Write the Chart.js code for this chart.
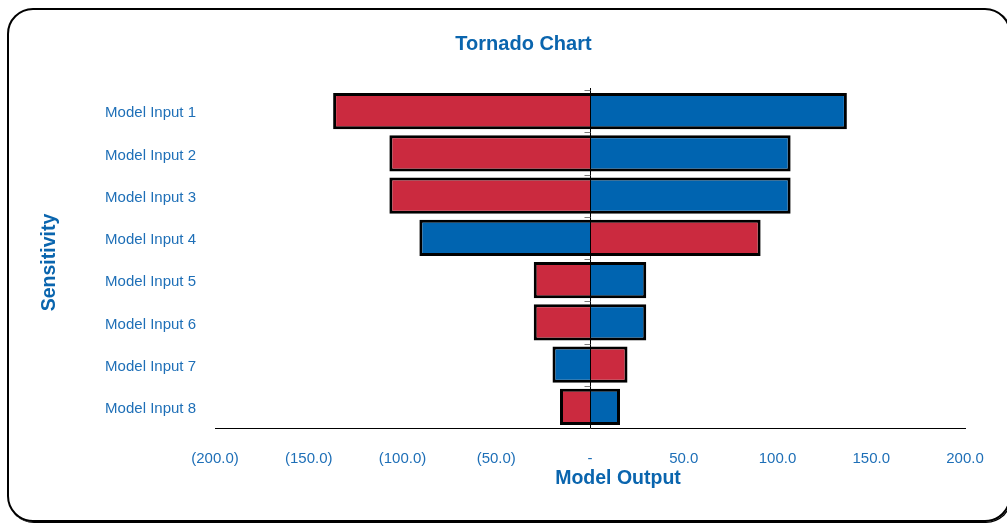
<!DOCTYPE html>
<html>
<head>
<meta charset="utf-8">
<title>Tornado Chart</title>
<script src="https://cdn.jsdelivr.net/npm/chart.js@4/dist/chart.umd.min.js"></script>
<style>
  html, body { margin: 0; padding: 0; background: #fff; overflow: hidden; }
  #wrap { position: relative; width: 1007px; height: 525px; }
  #frame {
    position: absolute; left: 7px; top: 8px; width: 1000px; height: 510px;
    border: 2px solid #000; border-radius: 26px; pointer-events: none;
    box-shadow: 1px 1px 0 #000;
  }
  canvas { position: absolute; left: 0; top: 0; }
</style>
</head>
<body>
<div id="wrap">
  <canvas id="chart" width="1007" height="525"></canvas>
  <div id="frame"></div>
</div>
<script>
// Inputs, top to bottom
const categories = ['Model Input 1', 'Model Input 2', 'Model Input 3', 'Model Input 4',
                    'Model Input 5', 'Model Input 6', 'Model Input 7', 'Model Input 8'];
// Swing of the model output for each input (red and blue cases)
const redSeries  = [-137, -107, -107,  91, -30, -30,  20, -16];
const blueSeries = [ 137,  107,  107, -91,  30,  30, -20,  16];
// Output axis ticks
const xTicks = [-200, -150, -100, -50, 0, 50, 100, 150, 200];

const chartTitle = 'Tornado Chart';
const xTitle = 'Model Output';
const yTitle = 'Sensitivity';

const RED = '#CB2A3F';
const BLUE = '#0064B0';
const LABEL_BLUE = '#1E6FB7';
const TITLE_BLUE = '#0A65AE';
const FONT = '"Liberation Sans", Arial, sans-serif';

function fmtTick(v) {
  if (v === 0) return '-';
  if (v < 0) return '(' + (-v).toFixed(1) + ')';
  return v.toFixed(1);
}

// Zero-line category marks plus the chart, axis titles
const captions = {
  id: 'captions',
  afterDatasetsDraw(chart) {
    const { ctx, scales: { x, y } } = chart;
    const x0 = Math.round(x.getPixelForValue(0)) + 0.5;
    const half = (y.getPixelForValue(1) - y.getPixelForValue(0)) / 2;
    ctx.save();
    ctx.strokeStyle = '#000';
    ctx.lineWidth = 1;
    ctx.beginPath();
    ctx.moveTo(x0, y.top - 2);
    ctx.lineTo(x0, y.bottom);
    ctx.stroke();
    ctx.strokeStyle = '#7a7a7a';
    for (let i = 0; i < categories.length; i++) {
      const yb = Math.round(y.getPixelForValue(i) - half) + 0.5;
      ctx.beginPath();
      ctx.moveTo(x0 - 6, yb);
      ctx.lineTo(x0, yb);
      ctx.stroke();
    }
    ctx.restore();
  },
  afterDraw(chart) {
    const { ctx } = chart;
    ctx.save();
    ctx.fillStyle = TITLE_BLUE;
    ctx.textAlign = 'center';
    ctx.textBaseline = 'middle';
    ctx.font = 'bold 20px ' + FONT;
    ctx.fillText(chartTitle, 523.5, 44);
    ctx.font = 'bold 19.5px ' + FONT;
    ctx.fillText(xTitle, 618, 479);
    ctx.translate(50, 262.5);
    ctx.rotate(-Math.PI / 2);
    ctx.fillText(yTitle, 0, 0);
    ctx.restore();
  }
};

new Chart(document.getElementById('chart'), {
  type: 'bar',
  data: {
    labels: categories,
    datasets: [
      { label: 'Red', data: redSeries, backgroundColor: RED, borderColor: '#000',
        borderWidth: 3, borderSkipped: 'start' },
      { label: 'Blue', data: blueSeries, backgroundColor: BLUE, borderColor: '#000',
        borderWidth: 3, borderSkipped: 'start' }
    ]
  },
  options: {
    indexAxis: 'y',
    responsive: false,
    animation: false,
    devicePixelRatio: 1,
    layout: { padding: { left: 0, right: 42, top: 90, bottom: 57 } },
    datasets: { bar: { categoryPercentage: 1.0, barPercentage: 0.86 } },
    plugins: {
      legend: { display: false },
      tooltip: { enabled: false },
      title: { display: false }
    },
    scales: {
      x: {
        type: 'linear',
        stacked: true,
        min: -200,
        max: 200,
        afterBuildTicks(scale) { scale.ticks = xTicks.map(v => ({ value: v })); },
        afterFit(scale) { scale.height = 40; },
        grid: { display: false, drawTicks: false },
        border: { display: true, color: '#000', width: 1 },
        ticks: {
          padding: 22,
          color: LABEL_BLUE,
          font: { family: FONT, size: 15 },
          maxRotation: 0,
          autoSkip: false,
          callback: v => fmtTick(v)
        }
      },
      y: {
        type: 'category',
        stacked: true,
        offset: true,
        afterFit(scale) { scale.width = 215; },
        grid: { display: false, drawTicks: false },
        border: { display: false },
        ticks: {
          padding: 19,
          labelOffset: 2,
          color: LABEL_BLUE,
          font: { family: FONT, size: 15 },
          autoSkip: false
        }
      }
    }
  },
  plugins: [captions]
});
</script>
</body>
</html>
